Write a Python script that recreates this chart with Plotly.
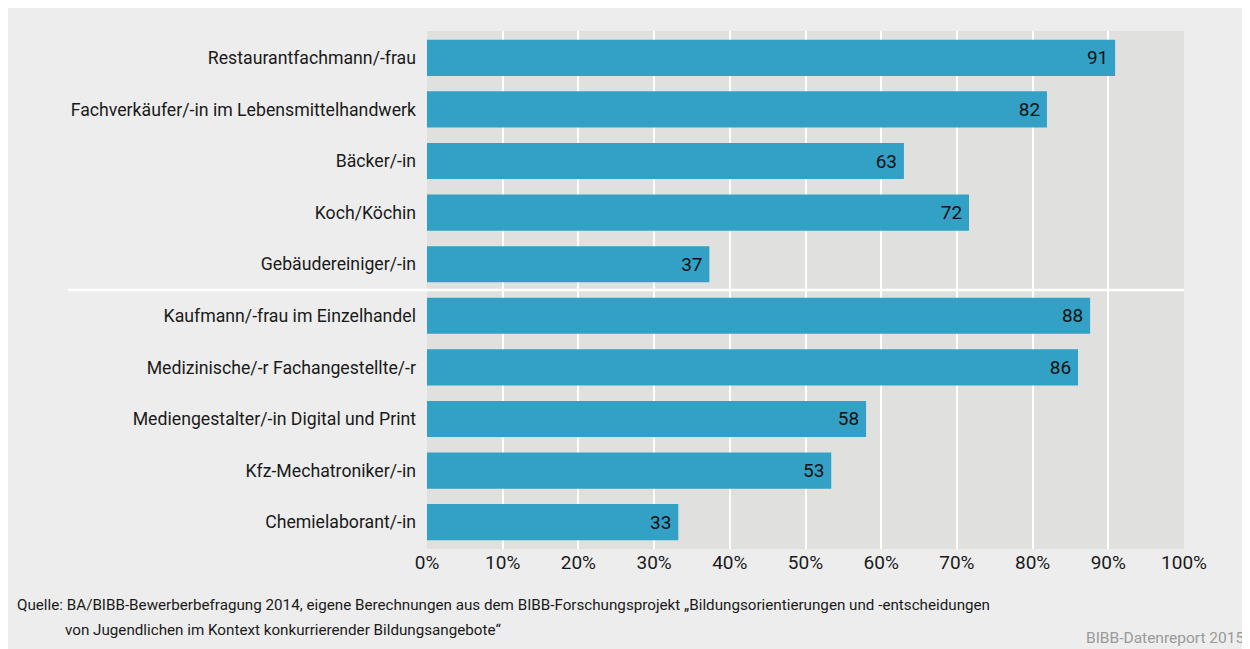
import plotly.graph_objects as go

categories = [
    "Restaurantfachmann/-frau",
    "Fachverkäufer/-in im Lebensmittelhandwerk",
    "Bäcker/-in",
    "Koch/Köchin",
    "Gebäudereiniger/-in",
    "Kaufmann/-frau im Einzelhandel",
    "Medizinische/-r Fachangestellte/-r",
    "Mediengestalter/-in Digital und Print",
    "Kfz-Mechatroniker/-in",
    "Chemielaborant/-in",
]
values = [90.9, 81.9, 63.0, 71.6, 37.3, 87.6, 86.0, 58.0, 53.4, 33.2]
labels = ["91", "82", "63", "72", "37", "88", "86", "58", "53", "33"]
tick_vals = [0, 10, 20, 30, 40, 50, 60, 70, 80, 90, 100]
tick_text = ["0%", "10%", "20%", "30%", "40%", "50%", "60%", "70%", "80%", "90%", "100%"]
source_line1 = "Quelle: BA/BIBB-Bewerberbefragung 2014, eigene Berechnungen aus dem BIBB-Forschungsprojekt „Bildungsorientierungen und -entscheidungen"
source_line2 = "von Jugendlichen im Kontext konkurrierender Bildungsangebote“"
credit = "BIBB-Datenreport 2015"

FONT = "Roboto, DejaVu Sans, sans-serif"
OFF = 8  # page body margin
W, H = 1250, 649
L, R, T, B = 427 - OFF, 1250 - (1184 - OFF), 31 - OFF, 649 - (549 - OFF)
pw, ph = W - L - R, H - T - B

def px_x(px):
    return (px - OFF - L) / pw

def px_y(py):
    return (H - B - (py - OFF)) / ph

fig = go.Figure(go.Bar(
    x=values, y=list(range(len(categories))), orientation="h",
    marker=dict(color="#33a1c6", line=dict(width=0)),
    width=0.7,
    text=labels, texttemplate="%{text}\u2009", textposition="inside", insidetextanchor="end",
    textfont=dict(family=FONT, size=19, color="#111111"),
    constraintext="none",
    hoverinfo="skip",
))

fig.update_layout(
    width=W, height=H,
    margin=dict(l=L, r=R, t=T, b=B),
    paper_bgcolor="#ededed",
    plot_bgcolor="#e0e0df",
    showlegend=False,
    font=dict(family=FONT, size=19, color="#1a1a1a"),
    xaxis=dict(
        range=[0, 100], tickvals=tick_vals, ticktext=tick_text,
        showgrid=True, gridcolor="#ffffff", gridwidth=2,
        zeroline=False, showline=False, ticks="",
        tickfont=dict(family=FONT, size=19, color="#1a1a1a"),
        fixedrange=True,
    ),
    yaxis=dict(
        range=[9.52, -0.52],
        tickvals=list(range(len(categories))), ticktext=categories,
        showgrid=False, zeroline=False, showline=False, ticks="",
        ticklabelstandoff=10,
        tickfont=dict(family=FONT, size=17.7, color="#1a1a1a"),
        fixedrange=True,
    ),
)

# separator between groups
fig.add_shape(type="line", xref="paper", yref="y",
              x0=px_x(68), x1=1.0, y0=4.5, y1=4.5,
              line=dict(color="#ffffff", width=2.5), layer="above")

fig.add_annotation(xref="paper", yref="paper", x=px_x(15), y=px_y(605),
                   text=source_line1, showarrow=False, xanchor="left", yanchor="middle",
                   font=dict(family=FONT, size=15.2, color="#1a1a1a"))
fig.add_annotation(xref="paper", yref="paper", x=px_x(63), y=px_y(630),
                   text=source_line2, showarrow=False, xanchor="left", yanchor="middle",
                   font=dict(family=FONT, size=15.2, color="#1a1a1a"))
fig.add_annotation(xref="paper", yref="paper", x=px_x(1246), y=px_y(638),
                   text=credit, showarrow=False, xanchor="right", yanchor="middle",
                   font=dict(family=FONT, size=15.5, color="#9a9a9a"))

fig.write_html("out.html")
